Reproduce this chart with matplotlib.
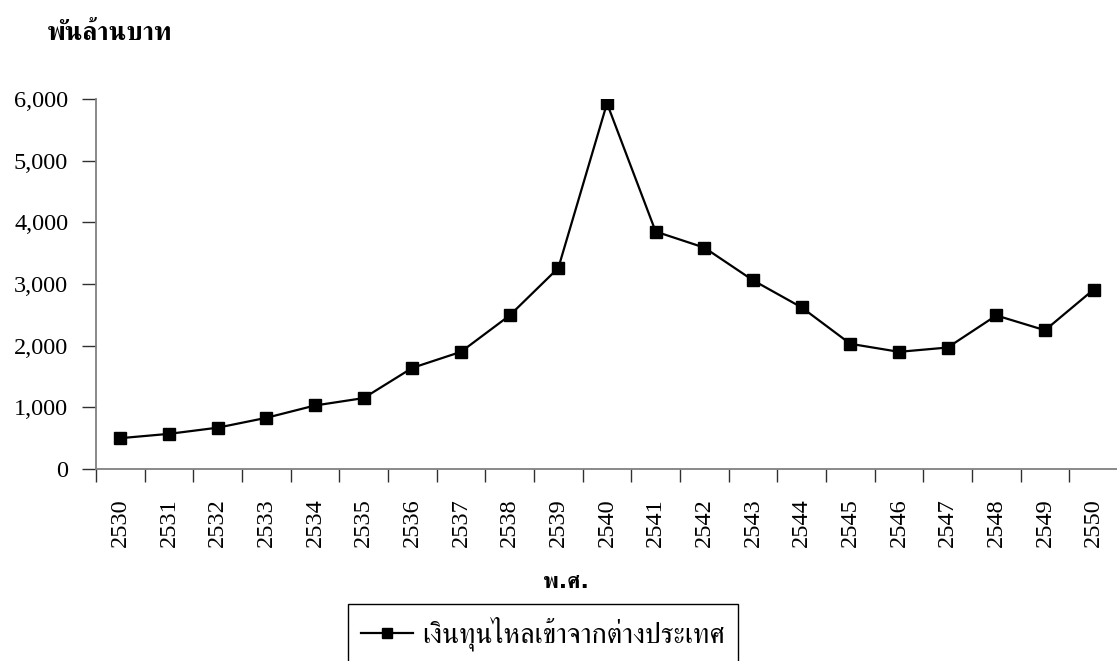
import matplotlib
matplotlib.use("Agg")
import matplotlib.pyplot as plt
from matplotlib.ticker import FuncFormatter, FixedLocator

# เงินทุนไหลเข้าจากต่างประเทศ (พันล้านบาท)
years = [2530, 2531, 2532, 2533, 2534, 2535, 2536, 2537, 2538, 2539, 2540,
         2541, 2542, 2543, 2544, 2545, 2546, 2547, 2548, 2549, 2550]
inflow = [500, 570, 670, 830, 1030, 1150, 1640, 1900, 2490, 3260, 5930,
          3850, 3590, 3060, 2620, 2030, 1900, 1970, 2490, 2250, 2910]
series_label = "เงินทุนไหลเข้าจากต่างประเทศ"
y_title = "พันล้านบาท"
x_title = "พ.ศ."

plt.rcParams['font.family'] = ['Liberation Serif', 'FreeSerif']

W, H = 1117, 661
fig = plt.figure(figsize=(W / 100, H / 100), dpi=100)
ax = fig.add_axes([96 / W, 1 - 469 / H, 1022 / W, 370 / H])

x = list(range(len(years)))
ax.plot(x, inflow, color='black', lw=1.6, marker='s', markersize=8,
        markerfacecolor='black', markeredgecolor='black', label=series_label)

ax.set_xlim(-0.5, len(years) - 0.5)
ax.set_ylim(0, 6000)
ax.set_yticks(range(0, 6001, 1000))
ax.yaxis.set_major_formatter(FuncFormatter(lambda v, p: f"{int(v):,}"))

# category labels centred, ticks on the boundaries
ax.xaxis.set_major_locator(FixedLocator([i - 0.5 for i in range(len(years) + 1)]))
ax.xaxis.set_minor_locator(FixedLocator(x))
ax.set_xticklabels([])
ax.set_xticks(x, [str(y) for y in years], minor=True, rotation=90)
ax.tick_params(axis='x', which='minor', length=0, pad=21, labelsize=17.5)
ax.tick_params(axis='x', which='major', length=9, width=1, color='#303030')
ax.tick_params(axis='y', length=10, width=1, color='#303030', pad=10, labelsize=17.5)

for s in ('top', 'right'):
    ax.spines[s].set_visible(False)
for s in ('left', 'bottom'):
    ax.spines[s].set_color('#808080')
    ax.spines[s].set_linewidth(1.3)

fig.text(47 / W, 1 - 33 / H, y_title, fontsize=19, fontweight='bold',
         ha='left', va='center')
fig.text(566 / W, 1 - 582 / H, x_title, fontsize=16, fontweight='bold',
         ha='center', va='center', family=['DejaVu Sans', 'FreeSerif'])

leg = fig.legend(loc='upper left', bbox_to_anchor=(348 / W, 1 - 604 / H),
                 bbox_transform=fig.transFigure, borderaxespad=0,
                 fontsize=20.5, handlelength=1.85, handletextpad=0.3,
                 borderpad=0.45, fancybox=False, framealpha=1,
                 edgecolor='black')
leg.get_frame().set_linewidth(1)
leg.get_lines()[0].set_markersize(7)

fig.savefig("out.png")
